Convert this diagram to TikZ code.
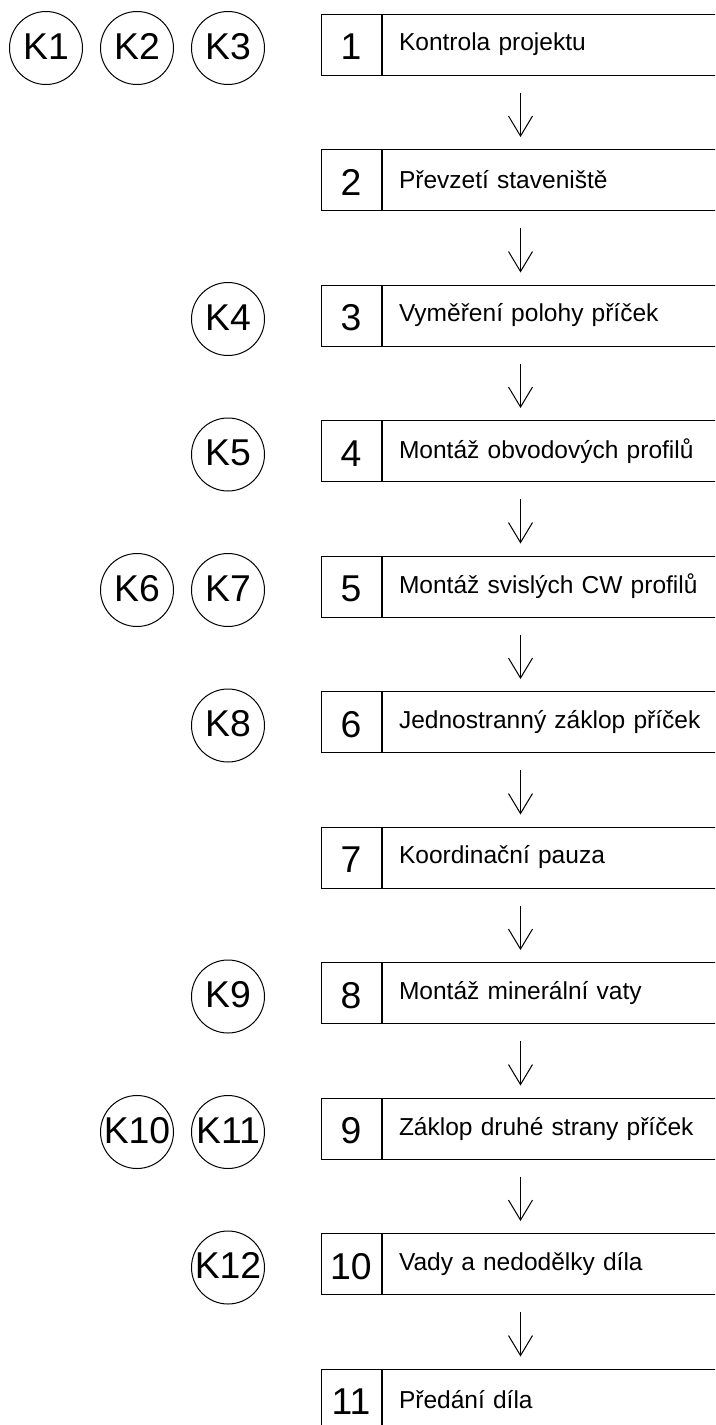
\documentclass[tikz,border=0pt]{standalone}
\usepackage{fontspec}
\setmainfont{Liberation Sans}
\usepackage{tikz}
\usetikzlibrary{positioning, arrows.meta, calc}

\begin{document}
\begin{tikzpicture}[
        x=0.75pt, y=0.75pt,
        numbox/.style={rectangle, draw, line width=0.75pt, minimum width=45pt, minimum height=45.75pt, inner sep=0pt, text height=23pt, text depth=0pt, font=\fontsize{28pt}{32pt}\selectfont},
        txtbox/.style={rectangle, draw, line width=0.75pt, minimum height=45.75pt, text width=243.75pt, inner xsep=12.75pt, inner ysep=0pt, align=left, font=\fontsize{18.4pt}{22pt}\selectfont},
        kcircle/.style={circle, draw, line width=0.75pt, minimum size=54.75pt, inner sep=0pt, text height=17pt, text depth=0pt, font=\fontsize{28pt}{32pt}\selectfont},
        flow/.style={line width=0.75pt, -{Straight Barb[length=15pt, width=18pt]}}
    ]
    \useasboundingbox (0,0) rectangle (715,-1425);
    \clip (0,0) rectangle (715,-1425);

    % process steps
    \foreach \i/\txt in {1/Kontrola projektu, 2/Převzetí staveniště, 3/Vyměření polohy příček,
        4/Montáž obvodových profilů, 5/Montáž svislých CW profilů, 6/Jednostranný záklop příček,
        7/Koordinační pauza, 8/Montáž minerální vaty, 9/Záklop druhé strany příček,
        10/Vady a nedodělky díla, 11/Předání díla} {
        \node[numbox] (n\i) at (351, {-44.5-135.5*(\i-1)}) {\i};
        \node[txtbox, anchor=west] (t\i) at (n\i.east) {\txt};
    }

    \foreach \i [evaluate=\i as \j using int(\i+1)] in {1,...,10} {
        \draw[flow] ($(t\i.south west)+(139,-17)$) -- ($(t\j.north west)+(139,12)$);
    }

    % control points
    \foreach \k/\x/\r in {1/46/1, 2/137/1, 3/228/1, 4/228/3, 5/228/4, 6/137/5, 7/228/5,
        8/228/6, 9/228/8, 10/137/9, 11/228/9, 12/228/10} {
        \node[kcircle] (k\k) at (\x, {-48-135.5*(\r-1)}) {K\k};
    }
\end{tikzpicture}
\end{document}
